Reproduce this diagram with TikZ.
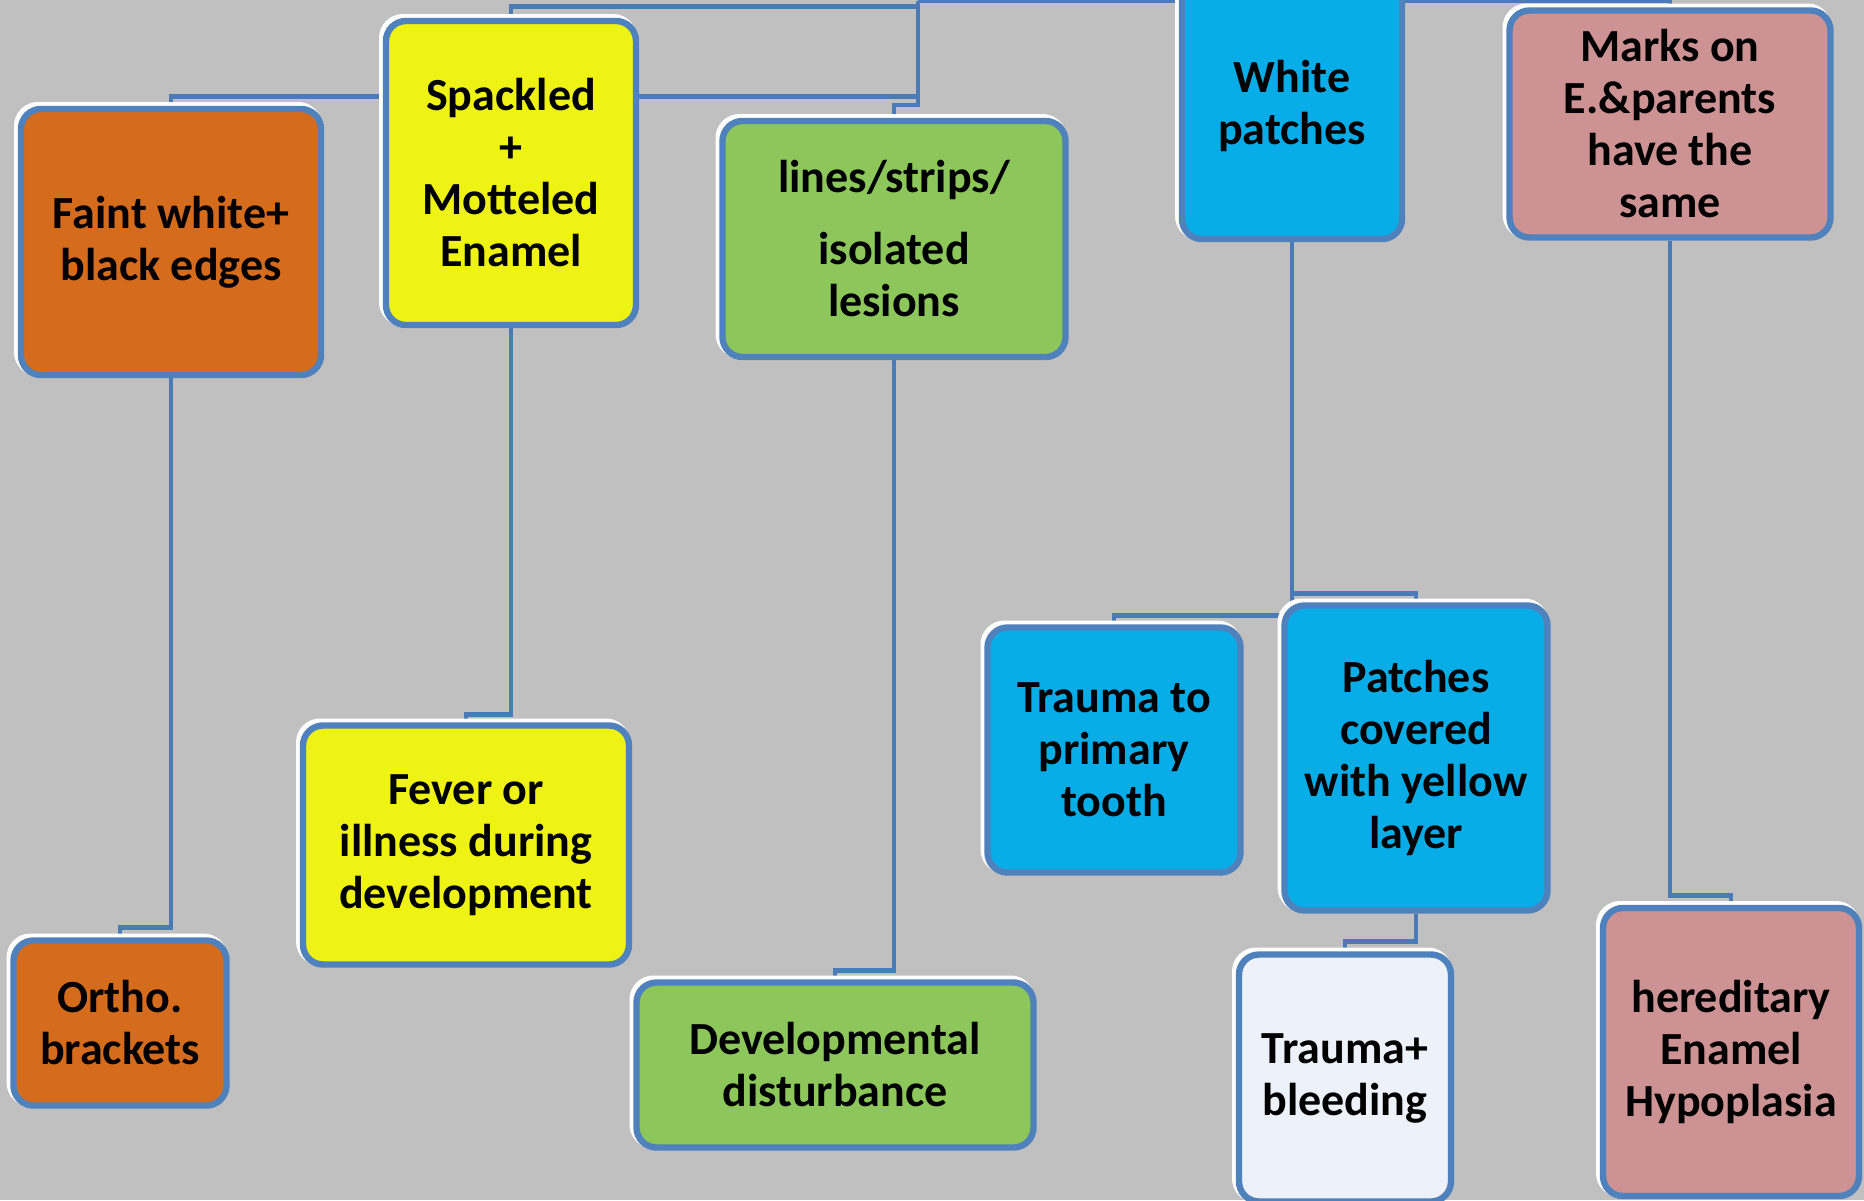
\documentclass[tikz,border=0pt]{standalone}
\usepackage{fontspec}
\setmainfont{Carlito}
\pgfdeclarelayer{back}
\pgfsetlayers{back,main}
\definecolor{greybg}{HTML}{C0C0C0}
\definecolor{edgeblue}{HTML}{4F81BD}
\definecolor{linkblue}{HTML}{4A7BB6}
\definecolor{orangefill}{HTML}{D46B1D}
\definecolor{yellowfill}{HTML}{EEF313}
\definecolor{greenfill}{HTML}{8DC65A}
\definecolor{bluefill}{HTML}{08ADE8}
\definecolor{pinkfill}{HTML}{CC9294}
\definecolor{palefill}{HTML}{EDF1F9}
\begin{document}
\begin{tikzpicture}[x=0.5pt,y=-0.5pt,
  box/.style={rectangle, rounded corners=10pt, draw=edgeblue, line width=3.2pt,
    inner sep=0pt, align=center, font=\fontsize{23}{26}\selectfont\bfseries,
    preaction={draw=white, line width=4pt, transform canvas={xshift=-1.5pt,yshift=1.5pt}}},
  boxsize/.style 2 args={minimum width=#1*0.5pt, minimum height=#2*0.5pt},
  conn/.style={draw=linkblue, line width=2.4pt}]
\useasboundingbox (0,0) rectangle (1864,1200);
\clip (0,0) rectangle (1864,1200);
\begin{pgfonlayer}{back}
\fill[greybg] (0,0) rectangle (1864,1200);
\end{pgfonlayer}

\node[box, fill=orangefill, boxsize={300}{266}] (faint) at (171,242) {Faint white+\\black edges};
\node[box, fill=yellowfill, boxsize={250}{304}] (spackled) at (511,173) {Spackled\\+\\Motteled\\Enamel};
\node[box, fill=greenfill, boxsize={343}{236}] (lines) at (894,239) {lines/strips/\\[10pt]isolated\\lesions};
\node[box, fill=bluefill, boxsize={220}{266}] (white) at (1292,106) {White\\patches};
\node[box, fill=pinkfill, boxsize={321}{227}] (marks) at (1670,124) {Marks on\\E.\&parents\\have the\\same};

\node[box, fill=orangefill, boxsize={213}{165}] (ortho) at (120,1023) {Ortho.\\brackets};
\node[box, fill=yellowfill, boxsize={326}{239}] (fever) at (466,845) {Fever or\\illness during\\development};
\node[box, fill=greenfill, boxsize={397}{165}] (devel) at (835,1065) {Developmental\\disturbance};
\node[box, fill=bluefill, boxsize={253}{245}] (trauma) at (1114,750) {Trauma to\\primary\\tooth};
\node[box, fill=bluefill, boxsize={263}{305}] (patches) at (1416,758) {Patches\\covered\\with yellow\\layer};
\node[box, fill=palefill, boxsize={212}{247}] (bleed) at (1345,1078) {Trauma+\\bleeding};
\node[box, fill=pinkfill, boxsize={256}{288}] (hered) at (1731,1052) {hereditary\\Enamel\\Hypoplasia};

\coordinate (spine) at (918,1);

\begin{pgfonlayer}{back}
\draw[conn] (spine) -- ++(0,104) -| (lines.north);
\draw[conn] (spackled.north) -- ++(0,-11) -| (spine);
\draw[conn] (faint.north) -- ++(0,-9) -| (spine);
\draw[conn] (spine) -| (marks.north);
\draw[conn] (faint.south) -- ++(0,549) -| (ortho.north);
\draw[conn] (spackled.south) -- ++(0,386) -| (fever.north);
\draw[conn] (lines.south) -- ++(0,610) -| (devel.north);
\draw[conn] (white.south) -- ++(0,351) -| (patches.north);
\draw[conn] (white.south) -- ++(0,373) -| (trauma.north);
\draw[conn] (patches.south) -- ++(0,28) -| (bleed.north);
\draw[conn] (marks.south) -- ++(0,655) -| (hered.north);
\end{pgfonlayer}
\end{tikzpicture}
\end{document}
